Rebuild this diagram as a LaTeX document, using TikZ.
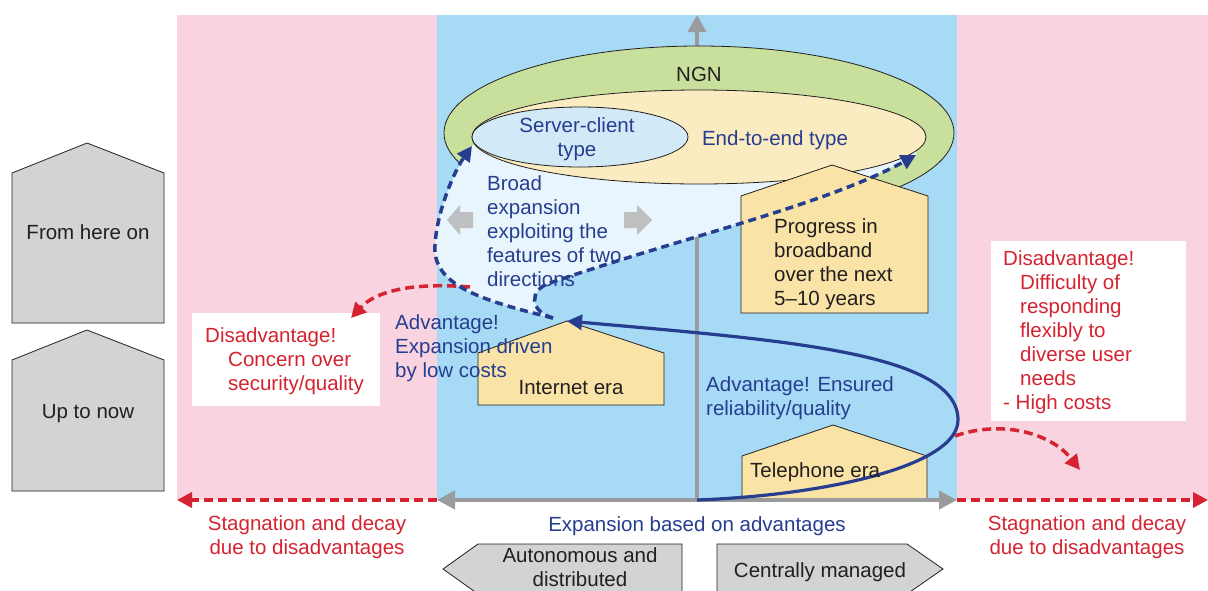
\documentclass[tikz,border=0pt]{standalone}
\usepackage{fontspec}
\setmainfont{Liberation Sans}
\usetikzlibrary{arrows.meta,shapes.geometric}
\definecolor{pinkbg}{RGB}{249,211,223}
\definecolor{bluebg}{RGB}{166,218,245}
\definecolor{lightbg}{RGB}{232,245,252}
\definecolor{ngngreen}{RGB}{201,224,156}
\definecolor{e2eyellow}{RGB}{250,235,192}
\definecolor{houseyellow}{RGB}{249,227,166}
\definecolor{scblue}{RGB}{210,233,247}
\definecolor{housegray}{RGB}{209,211,212}
\definecolor{axisgray}{RGB}{154,155,157}
\definecolor{arrowgray}{RGB}{190,191,193}
\definecolor{dblue}{RGB}{38,61,144}
\definecolor{dred}{RGB}{213,35,49}
\definecolor{txtblack}{RGB}{35,31,32}
\begin{document}
\begin{tikzpicture}[x=1pt,y=-1pt,
  outl/.style={draw=txtblack, line width=0.8pt},
  houseY/.style={outl, fill=houseyellow},
  houseG/.style={outl, fill=housegray},
  axisline/.style={draw=axisgray, fill=axisgray, line width=4pt},
  reddash/.style={draw=dred, line width=3.5pt, dash pattern=on 9pt off 5pt, -{Triangle[length=15pt,width=15pt]}},
  bluedash/.style={draw=dblue, line width=3.5pt, dash pattern=on 8pt off 5pt, -{Triangle[length=15pt,width=15pt]}},
  bluesolid/.style={draw=dblue, line width=3.2pt, -{Triangle[length=15pt,width=15pt]}},
  t/.style={inner sep=0pt, font=\fontsize{20.5}{24}\selectfont, text=txtblack},
  tb/.style={t, text=dblue},
  tr/.style={t, text=dred},
  ml/.style={align=left, anchor=north west},
  mc/.style={align=center, anchor=north},
]
\useasboundingbox (0,0) rectangle (1208,590);
% backgrounds
\fill[pinkbg] (177,15) rectangle (437,500);
\fill[pinkbg] (957,15) rectangle (1208,500);
\fill[bluebg] (437,15) rectangle (957,500);

% vertical gray axis
\coordinate (vbot) at (697,500);
\coordinate (vtop) at (697,15);
\draw[axisline, -{Triangle[length=17pt,width=18pt]}] (vbot) -- (vtop);

% NGN ellipse
\node[ellipse, outl, fill=ngngreen, minimum width=510pt, minimum height=174pt, inner sep=0pt] (ngn) at (699,133) {};

% light expansion region (over the NGN ring, under the inner ellipses)
\fill[lightbg] (472,146) .. controls (455,170) and (437,210) .. (435,245)
  .. controls (432,285) and (480,300) .. (553,318)
  .. controls (530,312) and (528,290) .. (550,283)
  .. controls (680,238) and (825,205) .. (916,155)
  -- (916,140) -- (480,140) -- cycle;

% inner ellipses
\node[ellipse, outl, fill=e2eyellow, minimum width=454pt, minimum height=94pt, inner sep=0pt] (e2e) at (699,137) {};
\node[ellipse, outl, fill=scblue, minimum width=216pt, minimum height=60pt, inner sep=0pt] (sc) at (580,137) {};

% gray block arrows (two directions)
\fill[arrowgray] (447,220) -- (460,205) -- (460,212) -- (473,212) -- (473,228) -- (460,228) -- (460,235) -- cycle;
\fill[arrowgray] (652,220) -- (637,205) -- (637,212) -- (624,212) -- (624,228) -- (637,228) -- (637,235) -- cycle;

% left houses
\draw[houseG] (12,173) -- (87,143) -- (164,173) -- (164,323) -- (12,323) -- cycle;
\draw[houseG] (12,360) -- (87,330) -- (164,360) -- (164,491) -- (12,491) -- cycle;
\node[t, anchor=base] (fromhere) at (88,239) {From here on};
\node[t, anchor=base] (uptonow) at (88,418) {Up to now};

% era houses
\draw[houseY] (478,353) -- (567,321) -- (664,353) -- (664,405) -- (478,405) -- cycle;
\coordinate (inetTop) at (567,321);
\draw[houseY] (741,196) -- (832,165) -- (928,196) -- (928,313) -- (741,313) -- cycle;
\fill[houseyellow] (742,456) -- (833,425) -- (927,456) -- (927,500) -- (742,500) -- cycle;
\draw[outl] (742,500) -- (742,456) -- (833,425) -- (927,456) -- (927,500);

% white boxes
\fill[white] (192,313) rectangle (380,406);
\fill[white] (991,241) rectangle (1186,421);

% bottom axis
\coordinate (axL) at (437,500);
\coordinate (axR) at (957,500);
\coordinate (redL) at (177,500);
\coordinate (redR) at (1208,500);
\draw[reddash] (axL) -- (redL);
\draw[reddash] (axR) -- (redR);
\draw[axisline, {Triangle[length=18pt,width=18pt]}-{Triangle[length=18pt,width=18pt]}] (axL) -- (axR);

% bottom gray arrows
\draw[houseG] (443,569) -- (478,544) -- (682,544) -- (682,594) -- (478,594) -- cycle;
\draw[houseG] (717,544) -- (907,544) -- (943,569) -- (907,594) -- (717,594) -- cycle;

% red disadvantage arrows
\coordinate (redStartL) at (470,287);
\coordinate (redEndL) at (351,318);
\draw[reddash] (redStartL) .. controls (410,282) and (375,292) .. (redEndL);
\coordinate (redStartR) at (955,436);
\coordinate (redEndR) at (1080,470);
\draw[reddash] (redStartR) .. controls (1000,420) and (1050,432) .. (redEndR);

% blue connectors
\coordinate (dashStart) at (553,318);
\coordinate (scLeft) at (472,146);
\coordinate (e2eRight) at (916,155);
\draw[bluedash] (dashStart) .. controls (480,300) and (432,285) .. (435,245)
  .. controls (437,210) and (455,170) .. (scLeft);
\draw[bluedash] (dashStart) .. controls (530,312) and (528,290) .. (550,283)
  .. controls (680,238) and (825,205) .. (e2eRight);
\coordinate (telRight) at (958,420);
\draw[bluesolid] (vbot) .. controls (830,495) and (958,465) .. (telRight)
  .. controls (958,352) and (780,340) .. (inetTop);

% texts
\node[t, anchor=base] (ngnlbl) at (699,81) {NGN};
\node[tb, mc] (sclbl) at (577,117) {Server-client\\type};
\node[tb, anchor=base] (e2elbl) at (775,145) {End-to-end type};
\node[tb, ml] (broad) at (487,175) {Broad\\expansion\\exploiting the\\features of two\\directions};
\node[t, ml] (progress) at (774,218) {Progress in\\broadband\\over the next\\5--10 years};
\node[t, anchor=base] (inetlbl) at (571,394) {Internet era};
\node[t, anchor=base west] (tellbl) at (750,477) {Telephone era};
\node[tb, ml] (advL) at (395,314) {Advantage!\\Expansion driven\\by low costs};
\node[tb, ml] (advR) at (706,376) {Advantage! Ensured\\reliability/quality};
\node[tr, ml] (disL) at (205,327) {Disadvantage!\\\hspace*{23pt}Concern over\\\hspace*{23pt}security/quality};
\node[tr, ml] (disR) at (1003,250) {Disadvantage!\\\hspace*{17pt}Difficulty of\\\hspace*{17pt}responding\\\hspace*{17pt}flexibly to\\\hspace*{17pt}diverse user\\\hspace*{17pt}needs\\- High costs};
\node[tr, mc] (stagL) at (307,515) {Stagnation and decay\\due to disadvantages};
\node[tr, mc] (stagR) at (1087,515) {Stagnation and decay\\due to disadvantages};
\node[tb, anchor=base] (expl) at (697,531) {Expansion based on advantages};
\node[t, mc] (auto) at (580,547) {Autonomous and\\distributed};
\node[t, anchor=base] (central) at (820,577) {Centrally managed};
\end{tikzpicture}
\end{document}
